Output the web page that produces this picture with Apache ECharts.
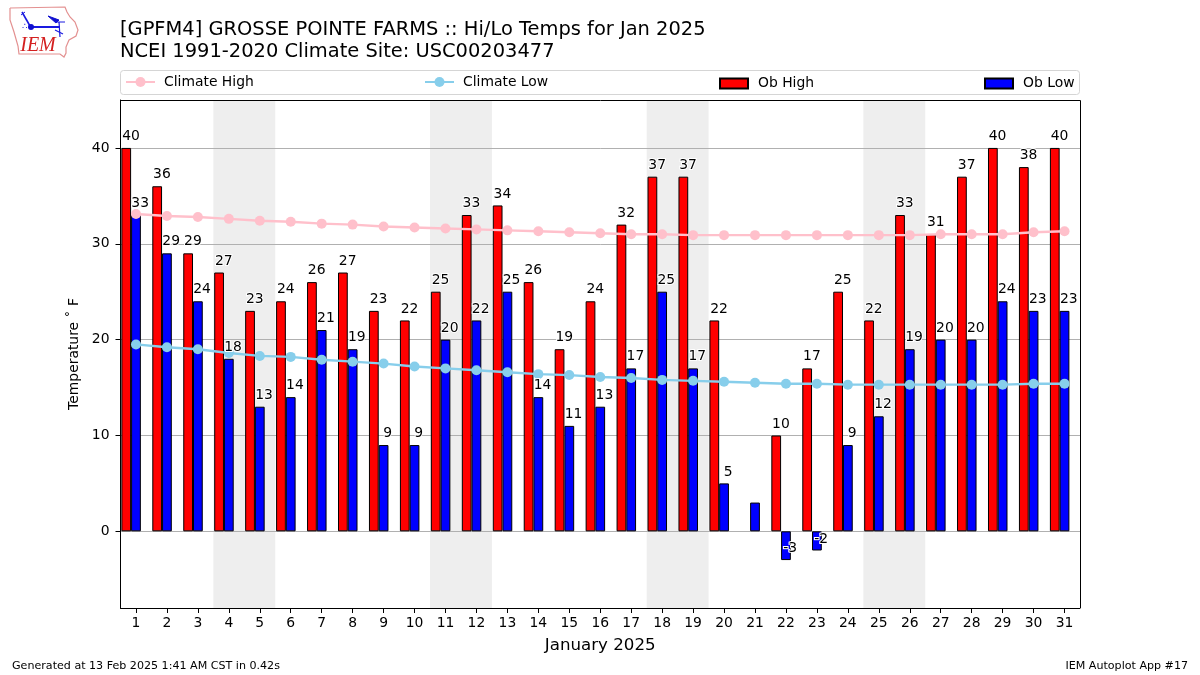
<!DOCTYPE html>
<html>
<head>
<meta charset="utf-8">
<style>html,body{margin:0;padding:0;background:#fff;overflow:hidden}#c{width:1200px;height:675px}</style>
<script src="https://cdn.jsdelivr.net/npm/echarts@6/dist/echarts.min.js"></script>
</head>
<body>
<div id="c"></div>
<script>
const days = ['1','2','3','4','5','6','7','8','9','10','11','12','13','14','15','16','17','18','19','20','21','22','23','24','25','26','27','28','29','30','31'];
const obHigh = [40,36,29,27,23,24,26,27,23,22,25,33,34,26,19,24,32,37,37,22,null,10,17,25,22,33,31,37,40,38,40];
const obLow = [33,29,24,18,13,14,21,19,9,9,20,22,25,14,11,13,17,25,17,5,3,-3,-2,9,12,19,20,20,24,23,23];
const climateHigh = [33.1,32.9,32.8,32.6,32.4,32.3,32.1,32.0,31.8,31.7,31.6,31.5,31.4,31.3,31.2,31.1,31.0,31.0,30.9,30.9,30.9,30.9,30.9,30.9,30.9,30.9,31.0,31.0,31.0,31.2,31.3];
const climateLow = [19.5,19.2,19.0,18.6,18.3,18.2,17.9,17.7,17.5,17.2,17.0,16.8,16.6,16.4,16.3,16.1,16.0,15.8,15.7,15.6,15.5,15.4,15.4,15.3,15.3,15.3,15.3,15.3,15.3,15.4,15.4];
const weekends = [[3.5,5.5],[10.5,12.5],[17.5,19.5],[24.5,26.5]];
const yTicks = [0,10,20,30,40];

const FONT = '"DejaVu Sans"';
const lowLabels = obLow.map((v,i)=> obHigh[i]===null ? null : v);

function labelSeries(name, values, dx){
  return {
    name, type:'scatter', data:values, symbolSize:1, z:20,
    itemStyle:{color:'rgba(0,0,0,0)',opacity:1}, silent:true,
    label:{show:true, position:'top', distance:4, offset:[dx,0],
      fontFamily:FONT, fontSize:13.9, color:'#000',
      textBorderColor:'#fff', textBorderWidth:2}
  };
}
function legendAt(name, left, itemWidth, itemHeight, icon, textGap){
  return {data:[{name, icon}], left, top:icon==='rect'?76.5:75, itemWidth, itemHeight, itemGap:0,
    padding:0, selectedMode:false,
    textStyle:{fontFamily:FONT,fontSize:13.9,color:'#000',padding:[0,0,0,textGap]}};
}

const chart = echarts.init(document.getElementById('c'),null,{renderer:'canvas'});
chart.setOption({
  animation:false,
  backgroundColor:'#fff',
  textStyle:{fontFamily:FONT},
  title:[
    {text:'[GPFM4] GROSSE POINTE FARMS :: Hi/Lo Temps for Jan 2025\nNCEI 1991-2020 Climate Site: USC00203477',
     left:120, top:19, padding:0,
     textStyle:{fontFamily:FONT,fontSize:19.44,fontWeight:'normal',color:'#000',lineHeight:22}},
    {text:'Generated at 13 Feb 2025 1:41 AM CST in 0.42s', left:12, top:661, padding:0,
     textStyle:{fontFamily:FONT,fontSize:11.1,fontWeight:'normal',color:'#000'}},
    {text:'IEM Autoplot App #17', right:12, top:661, padding:0,
     textStyle:{fontFamily:FONT,fontSize:11.1,fontWeight:'normal',color:'#000'}}
  ],
  legend:[
    legendAt('Climate High',125,29,12.5,undefined,4),
    legendAt('Climate Low',424,29,12.5,undefined,4),
    legendAt('Ob High',719,28,10,'rect',5),
    legendAt('Ob Low',984,28,10,'rect',5)
  ],
  grid:{left:120.5,top:100,width:959.5,height:508,show:false,containLabel:false},
  xAxis:[
    {type:'category',data:days,boundaryGap:true,
     name:'January 2025',nameLocation:'middle',nameGap:29,
     nameTextStyle:{fontFamily:FONT,fontSize:16.67,color:'#000'},
     axisLine:{onZero:false,lineStyle:{color:'#000',width:1}},
     axisTick:{show:true,alignWithLabel:true,interval:0,length:5,lineStyle:{color:'#000'}},
     axisLabel:{interval:0,fontFamily:FONT,fontSize:13.9,color:'#000',margin:8},
     splitLine:{show:false}},
    {type:'value',min:0.5,max:31.5,show:false,splitLine:{show:false}}
  ],
  yAxis:{type:'value',min:-8,max:45,
     name:'Temperature ˚ F',nameLocation:'middle',nameGap:39,nameRotate:90,
     nameTextStyle:{fontFamily:FONT,fontSize:13.9,color:'#000'},
     axisLine:{show:true,onZero:false,lineStyle:{color:'#000'}},
     axisTick:{show:true,length:5,lineStyle:{color:'#000'},customValues:yTicks},
     axisLabel:{fontFamily:FONT,fontSize:13.9,color:'#000',margin:11,customValues:yTicks},
     splitLine:{show:true,lineStyle:{color:'#b0b0b0',width:1}}},
  series:[
    {name:'weekend',type:'line',xAxisIndex:1,data:[],z:-1,silent:true,
     markArea:{z:-1,silent:true,itemStyle:{color:'#eeeeee',borderWidth:0},
       data:weekends.map(w=>[{xAxis:w[0]},{xAxis:w[1]}])}},
    {name:'Ob High',type:'bar',data:obHigh,barWidth:'31.5%',barGap:'0%',z:3,
     itemStyle:{color:'#ff0000',borderColor:'#000',borderWidth:1}},
    {name:'Ob Low',type:'bar',data:obLow,barWidth:'31.5%',barGap:'0%',z:3,
     itemStyle:{color:'#0000ff',borderColor:'#000',borderWidth:1}},
    {name:'spacer',type:'bar',data:days.map(()=>null),barWidth:'31.5%',barGap:'0%',silent:true},
    {name:'Climate High',type:'line',data:climateHigh,z:5,symbol:'circle',symbolSize:10,showSymbol:true,
     lineStyle:{color:'#ffc0cb',width:2.4},itemStyle:{color:'#ffc0cb'}},
    {name:'Climate Low',type:'line',data:climateLow,z:5,symbol:'circle',symbolSize:10,showSymbol:true,
     lineStyle:{color:'#87ceeb',width:2.4},itemStyle:{color:'#87ceeb'}},
    labelSeries('High labels',obHigh,-5),
    labelSeries('Low labels',lowLabels,4.2)
  ],
  graphic:[
    {type:'rect',z:-5,shape:{x:120.5,y:70.5,width:959,height:24,r:3},style:{fill:'#fff',stroke:'#d5d5d5',lineWidth:1}},
    {type:'polyline',z:50,silent:true,shape:{points:[[120.5,100.5],[1080.5,100.5],[1080.5,608]]},style:{fill:'none',stroke:'#000',lineWidth:1}},
    // logo
    {type:'polyline',shape:{points:[[10,8],[65,7],[67,12],[70,17],[75,22],[78,30],[76,36],[69,40],[66,47],[66,53],[64,57],[60,54],[19,54],[18,46],[14,32],[10,20],[10,8]]},style:{fill:'none',stroke:'#e39090',lineWidth:1.2}},
    {type:'polyline',shape:{points:[[22,12],[26,19],[30,26]]},style:{fill:'none',stroke:'#1a1ae0',lineWidth:1.6}},
    {type:'polyline',shape:{points:[[31,27],[60,27]]},style:{fill:'none',stroke:'#1a1ae0',lineWidth:2}},
    {type:'polyline',shape:{points:[[21,15],[25,12]]},style:{fill:'none',stroke:'#1a1ae0',lineWidth:1}},
    {type:'circle',shape:{cx:31,cy:27,r:3},style:{fill:'#1010d0'}},
    {type:'polyline',shape:{points:[[48,16],[59,20],[56,23],[48,16]]},style:{fill:'#1010d0',stroke:'#1010d0',lineWidth:1}},
    {type:'polyline',shape:{points:[[55,22],[65,22]]},style:{fill:'none',stroke:'#1a1ae0',lineWidth:1}},
    {type:'polyline',shape:{points:[[59,22],[60,37]]},style:{fill:'none',stroke:'#1a1ae0',lineWidth:1.2}},
    {type:'polyline',shape:{points:[[55,30],[63,34]]},style:{fill:'none',stroke:'#1a1ae0',lineWidth:1.2}},
    {type:'text',style:{x:25,y:27,text:'∴',fill:'#1a1ae0',font:'9px "DejaVu Sans"',align:'center',verticalAlign:'middle'}},
    {type:'text',style:{x:38,y:46,text:'IEM',fill:'#d42020',font:'italic 20px "Liberation Serif"',align:'center',verticalAlign:'middle'}}
  ]
});
</script>
</body>
</html>
